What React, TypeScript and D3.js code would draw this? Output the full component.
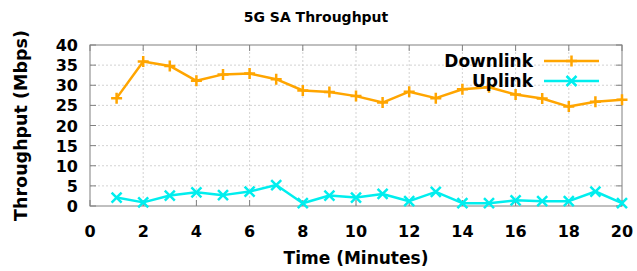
import React, { useEffect, useRef } from 'react';
import * as d3 from 'd3';

const minutes = [1, 2, 3, 4, 5, 6, 7, 8, 9, 10, 11, 12, 13, 14, 15, 16, 17, 18, 19, 20];
const downlink = [26.8, 35.9, 34.8, 31.1, 32.7, 32.9, 31.5, 28.7, 28.3, 27.3, 25.7, 28.4, 26.8, 29.0, 29.5, 27.7, 26.7, 24.7, 25.9, 26.4];
const uplink = [2.1, 0.9, 2.6, 3.4, 2.7, 3.6, 5.2, 0.7, 2.6, 2.1, 3.0, 1.2, 3.5, 0.7, 0.7, 1.4, 1.2, 1.2, 3.6, 0.7];
const xTicks = [0, 2, 4, 6, 8, 10, 12, 14, 16, 18, 20];
const yTicks = [0, 5, 10, 15, 20, 25, 30, 35, 40];

const FONT = '"DejaVu Sans", Verdana, sans-serif';

const App: React.FC = () => {
  const ref = useRef<SVGSVGElement | null>(null);

  useEffect(() => {
    if (!ref.current) return;
    const svg = d3.select(ref.current);
    svg.selectAll('*').remove();

    const width = 637;
    const height = 271;
    const margin = { top: 45, right: 15, bottom: 65, left: 90 };

    const x = d3.scaleLinear().domain([0, 20]).range([margin.left, width - margin.right]);
    const y = d3.scaleLinear().domain([0, 40]).range([height - margin.bottom, margin.top]);

    // grid
    const grid = svg.append('g').attr('stroke', '#c8c8c8').attr('stroke-width', 0.8).attr('stroke-dasharray', '2,2');
    xTicks.slice(1, -1).forEach((t) => {
      grid.append('line').attr('x1', x(t)).attr('x2', x(t)).attr('y1', y(0)).attr('y2', y(40));
    });
    yTicks.slice(1, -1).forEach((t) => {
      grid.append('line').attr('x1', x(0)).attr('x2', x(20)).attr('y1', y(t)).attr('y2', y(t));
    });

    // ticks (inside, mirrored)
    const ticks = svg.append('g').attr('stroke', '#808080').attr('stroke-width', 1);
    xTicks.forEach((t) => {
      ticks.append('line').attr('x1', x(t)).attr('x2', x(t)).attr('y1', y(0)).attr('y2', y(0) - 6);
      ticks.append('line').attr('x1', x(t)).attr('x2', x(t)).attr('y1', y(40)).attr('y2', y(40) + 6);
    });
    yTicks.forEach((t) => {
      ticks.append('line').attr('x1', x(0)).attr('x2', x(0) + 6).attr('y1', y(t)).attr('y2', y(t));
      ticks.append('line').attr('x1', x(20)).attr('x2', x(20) - 6).attr('y1', y(t)).attr('y2', y(t));
    });

    // border
    svg.append('rect')
      .attr('x', x(0)).attr('y', y(40))
      .attr('width', x(20) - x(0)).attr('height', y(0) - y(40))
      .attr('fill', 'none').attr('stroke', '#808080').attr('stroke-width', 1);

    // tick labels
    const lbl = svg.append('g').attr('font-family', FONT).attr('font-weight', 'bold').attr('font-size', 16).attr('fill', '#000');
    xTicks.forEach((t) => {
      lbl.append('text').attr('x', x(t)).attr('y', y(0) + 31).attr('text-anchor', 'middle').text(String(t));
    });
    yTicks.forEach((t) => {
      lbl.append('text').attr('x', x(0) - 12).attr('y', y(t) + 6).attr('text-anchor', 'end').text(String(t));
    });

    // titles
    svg.append('text')
      .attr('x', 316).attr('y', 22)
      .attr('text-anchor', 'middle')
      .attr('font-family', FONT).attr('font-weight', 'bold').attr('font-size', 14)
      .text('5G SA Throughput');
    svg.append('text')
      .attr('x', (x(0) + x(20)) / 2).attr('y', 264)
      .attr('text-anchor', 'middle')
      .attr('font-family', FONT).attr('font-weight', 'bold').attr('font-size', 17)
      .text('Time (Minutes)');
    svg.append('text')
      .attr('transform', `translate(27,${(y(0) + y(40)) / 2}) rotate(-90)`)
      .attr('text-anchor', 'middle')
      .attr('font-family', FONT).attr('font-weight', 'bold').attr('font-size', 17.5)
      .text('Throughput (Mbps)');

    const line = d3.line<number>()
      .x((_, i) => x(minutes[i]))
      .y((d) => y(d));

    const plus = (g: d3.Selection<SVGGElement, unknown, null, undefined>, cx: number, cy: number, color: string) => {
      const s = 5.5;
      g.append('path').attr('d', `M${cx - s},${cy}H${cx + s}M${cx},${cy - s}V${cy + s}`)
        .attr('stroke', color).attr('stroke-width', 2.5).attr('fill', 'none');
    };
    const cross = (g: d3.Selection<SVGGElement, unknown, null, undefined>, cx: number, cy: number, color: string) => {
      const s = 5;
      g.append('path').attr('d', `M${cx - s},${cy - s}L${cx + s},${cy + s}M${cx - s},${cy + s}L${cx + s},${cy - s}`)
        .attr('stroke', color).attr('stroke-width', 2.5).attr('fill', 'none');
    };

    const series = [
      { name: 'Downlink', values: downlink, color: '#ffa500', marker: plus },
      { name: 'Uplink', values: uplink, color: '#00eeee', marker: cross },
    ];

    series.forEach((s) => {
      svg.append('path')
        .datum(s.values)
        .attr('fill', 'none')
        .attr('stroke', s.color)
        .attr('stroke-width', 2.5)
        .attr('stroke-linejoin', 'round')
        .attr('d', line);
      const g = svg.append('g');
      s.values.forEach((v, i) => s.marker(g, x(minutes[i]), y(v), s.color));
    });

    // legend
    series.forEach((s, i) => {
      const ly = 61 + i * 20;
      const g = svg.append('g');
      g.append('text')
        .attr('x', 533).attr('y', ly + 6)
        .attr('text-anchor', 'end')
        .attr('font-family', FONT).attr('font-weight', 'bold').attr('font-size', 17)
        .text(s.name);
      g.append('line')
        .attr('x1', 544).attr('x2', 599).attr('y1', ly).attr('y2', ly)
        .attr('stroke', s.color).attr('stroke-width', 2.5);
      s.marker(g, 571.5, ly, s.color);
    });
  }, []);

  return <svg ref={ref} width={637} height={271} style={{ position: 'absolute', left: 0, top: 0, background: '#fff' }} />;
};

export default App;
